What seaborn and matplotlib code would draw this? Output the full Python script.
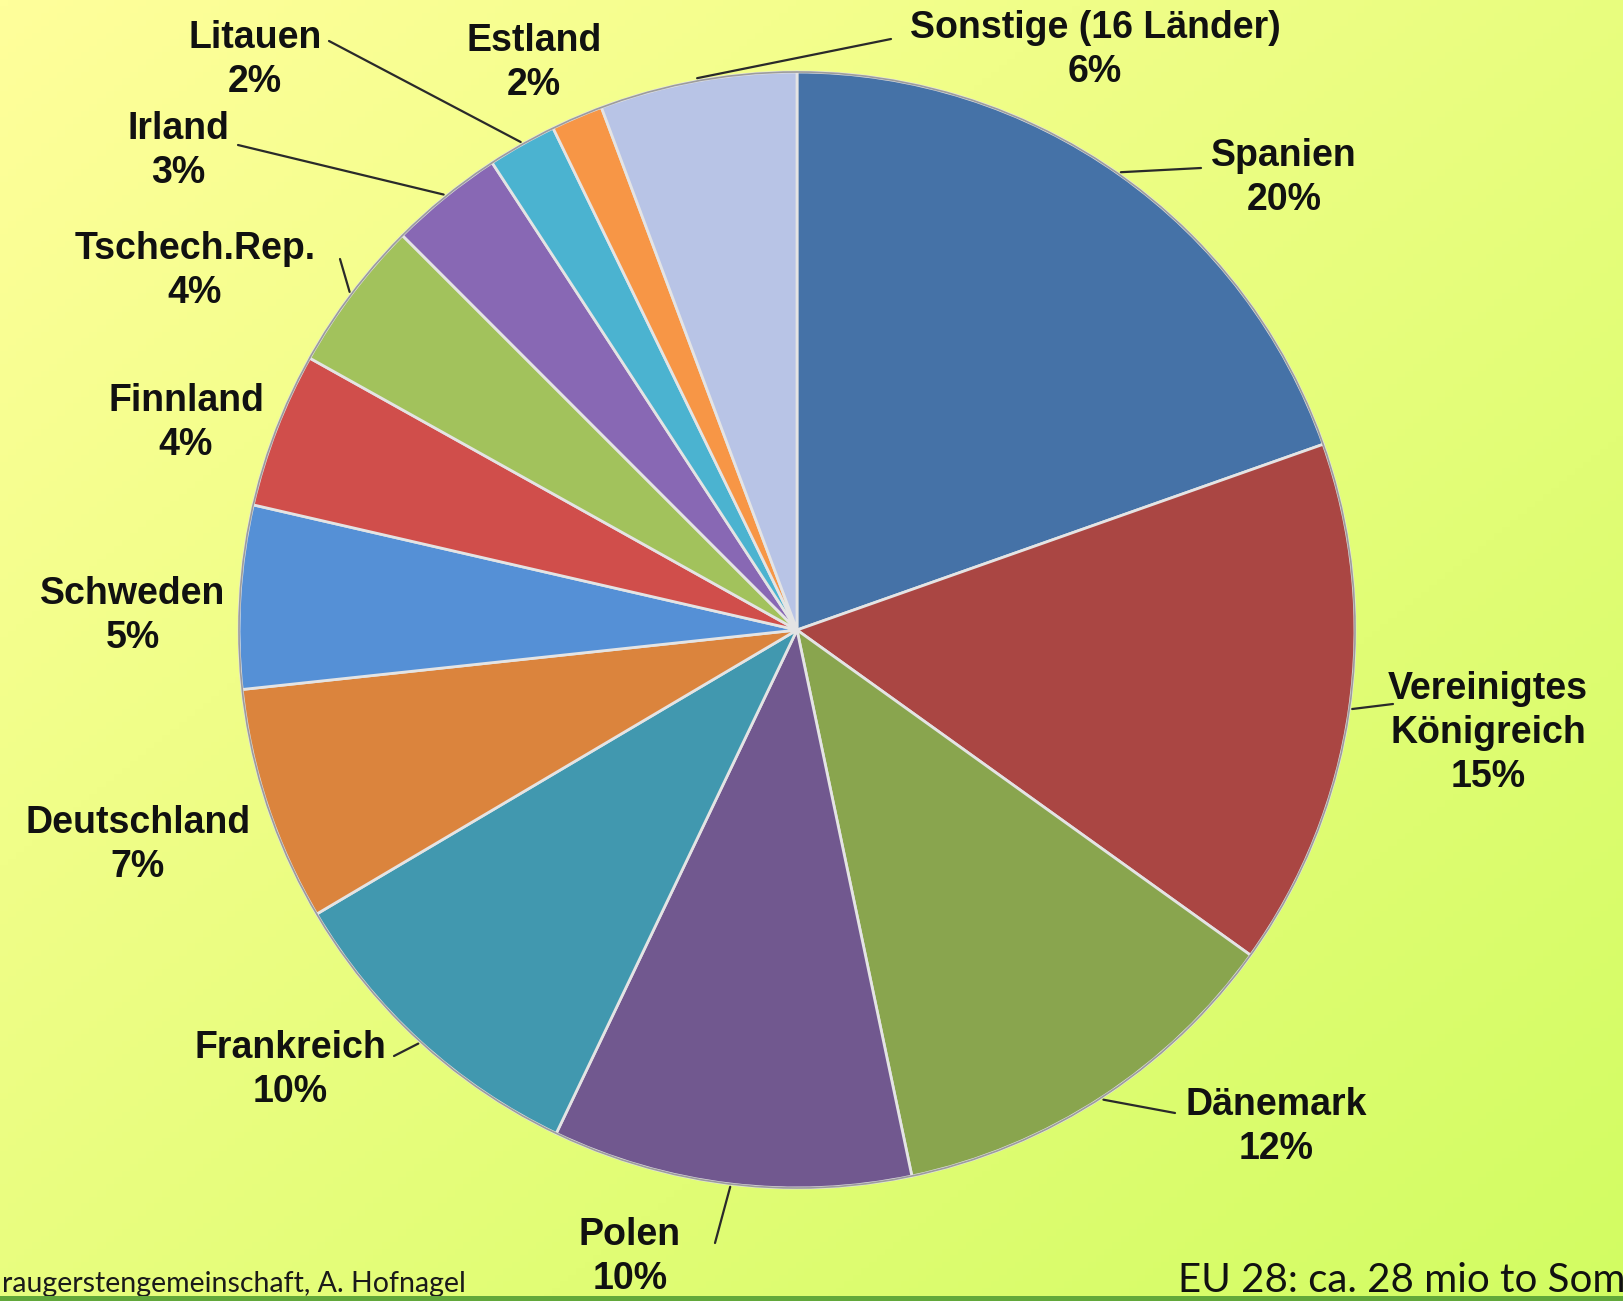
import numpy as np
import matplotlib
matplotlib.use('Agg')
import matplotlib.pyplot as plt
import seaborn as sns
from matplotlib.patches import Rectangle

# Daten: Anteile an der EU-Sommergerstenfläche
countries = ['Spanien', 'Vereinigtes\nKönigreich', 'Dänemark', 'Polen', 'Frankreich',
             'Deutschland', 'Schweden', 'Finnland', 'Tschech.Rep.', 'Irland',
             'Litauen', 'Estland', 'Sonstige (16 Länder)']
shares = [19.6, 15.3, 11.8, 10.4, 9.4, 6.8, 5.3, 4.5, 4.4, 3.3, 2.0, 1.5, 5.7]
pct_labels = ['20%', '15%', '12%', '10%', '10%', '7%', '5%', '4%', '4%', '3%', '2%', '2%', '6%']

colors = ['#4572A7', '#AA4643', '#89A54E', '#71588F', '#4198AF', '#DB843D',
          '#5590D6', '#D04E4B', '#A2C25C', '#8868B4', '#4BB3D0', '#F79646', '#B8C4E6']

# Fußzeilen, so weit wie im Bild sichtbar
source_text = 'raugerstengemeinschaft, A. Hofnagel'
total_text = 'EU 28: ca. 28 mio to Som'

W, H = 1624, 1301
center = (797, H - 630)
radius = 558

sns.set_theme(style='white')
plt.rcParams['font.family'] = ['Liberation Sans', 'DejaVu Sans']

fig = plt.figure(figsize=(W / 100, H / 100), dpi=100)
ax = fig.add_axes([0, 0, 1, 1])

# Hintergrund-Verlauf: oben links gelb -> unten rechts gelbgrün
gx, gy = np.meshgrid(np.linspace(0, 1, 200), np.linspace(0, 1, 200))
t = (gx + gy) / 2
c0 = np.array([255, 255, 155]) / 255
c1 = np.array([210, 252, 98]) / 255
grad = c0[None, None, :] * (1 - t[..., None]) + c1[None, None, :] * t[..., None]
ax.imshow(grad, extent=(0, W, 0, H), origin='upper', zorder=0, aspect='auto')

wedges, _ = ax.pie(shares, colors=sns.color_palette(colors), startangle=90,
                   counterclock=False, center=center, radius=radius,
                   wedgeprops=dict(edgecolor='#e4e4e4', linewidth=2.0))
for w in wedges:
    w.set_zorder(2)

# Pie-Rand leicht abgedunkelt
ax.add_patch(plt.Circle(center, radius, fill=False, edgecolor='#555555',
                        linewidth=1.2, alpha=0.5, zorder=3))

ax.set_xlim(0, W)
ax.set_ylim(0, H)
ax.set_aspect('auto')
ax.axis('off')

# Beschriftungspositionen (Pixel, von oben gemessen)
label_pos = [(1284, 178), (1488, 733), (1276, 1127), (630, 1257), (290, 1070),
             (138, 845), (133, 616), (186, 423), (195, 271), (178, 151),
             (255, 60), (534, 63), (1095, 50)]
# Startpunkte der Führungslinien (None = keine Linie)
leader_start = [(1201, 168), (1393, 704), (1175, 1113), (715, 1243), (394, 1056),
                None, None, None, (340, 259), (238, 145),
                (329, 41), None, (891, 39)]

for i, w in enumerate(wedges):
    lx, ly = label_pos[i]
    ax.text(lx, H - ly, countries[i] + '\n' + pct_labels[i], ha='center', va='center',
            fontsize=27, fontweight='bold', color='#111111', linespacing=1.3, zorder=5)
    if leader_start[i] is not None:
        mid = np.deg2rad((w.theta1 + w.theta2) / 2)
        ex = center[0] + radius * 1.005 * np.cos(mid)
        ey = center[1] + radius * 1.005 * np.sin(mid)
        sx, sy = leader_start[i]
        ax.plot([sx, ex], [H - sy, ey], color='#2a2a2a', lw=1.6, zorder=4)

# Fußzeilen
fig.text(2 / W, 1 - 1292 / H, source_text,
         ha='left', va='baseline', fontsize=20.5, family=['Lato', 'DejaVu Sans'], color='#1a1a1a')
fig.text(1178 / W, 1 - 1292 / H, total_text,
         ha='left', va='baseline', fontsize=29, family=['Lato', 'DejaVu Sans'], color='#111111')

# grüne Linie am unteren Rand
fig.patches.append(Rectangle((0, 0), 1, 5 / H, transform=fig.transFigure,
                             facecolor='#62A83A', edgecolor='none', zorder=10))

fig.savefig('out.png', dpi=100)
